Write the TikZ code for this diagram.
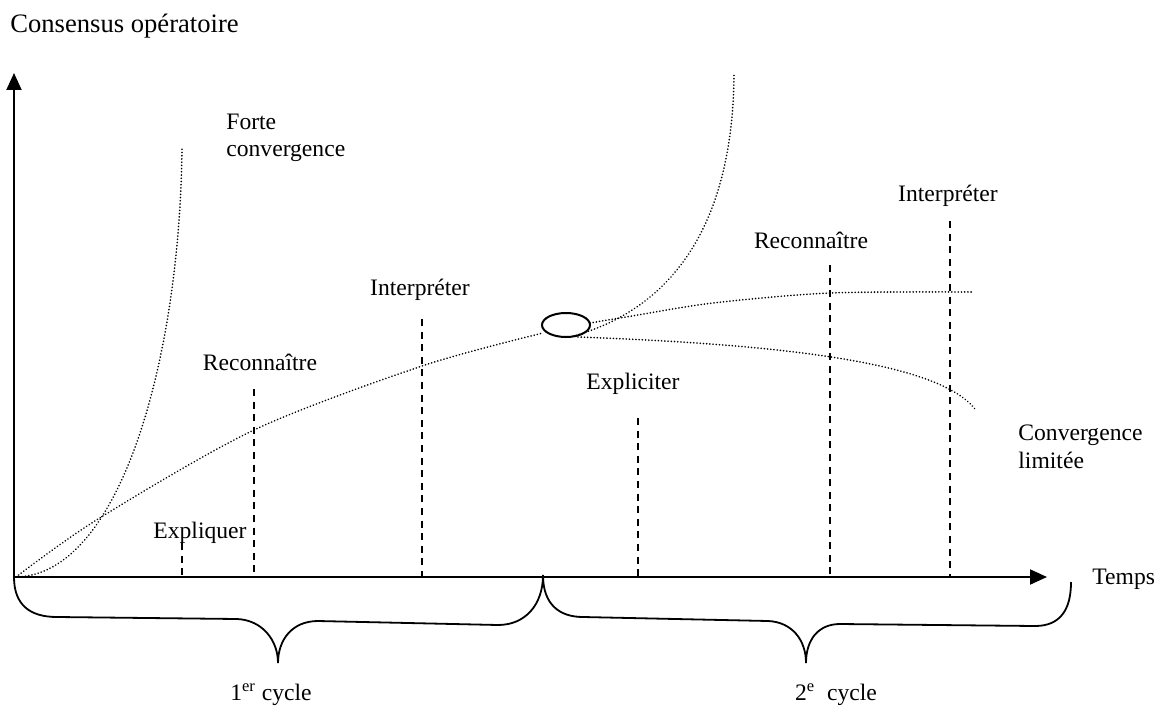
\documentclass[tikz,border=0pt]{standalone}
\usepackage{fontspec}
\setmainfont{Liberation Serif}
\usetikzlibrary{arrows.meta,shapes.geometric}

\begin{document}
\begin{tikzpicture}[x=.5pt,y=-.5pt,
  axe/.style={line width=1pt,-{Triangle[length=8.5pt,width=7.5pt]}},
  etape/.style={line width=1pt,dash pattern=on 3.5pt off 2.8pt},
  courbe/.style={line width=.9pt,dash pattern=on .01pt off 1.6pt,line cap=round},
  accolade/.style={line width=.9pt},
  txt/.style={inner sep=0pt,font=\fontsize{11.8}{13.8}\selectfont}]
\useasboundingbox (0,0) rectangle (1165,711);
% axes
\coordinate (O) at (14,577);
\draw[axe] (O)--(14,73) coordinate (ytip);
\draw[axe] (O)--(1047,577) coordinate (xtip);
\node[txt,font=\fontsize{13.3}{16}\selectfont,anchor=base west] (titre) at (10,33) {Consensus opératoire};
\node[txt,anchor=base west] (temps) at (1092,584) {Temps};
% etapes
\foreach \n/\x/\t in {expl/182/543,rec1/254/389,int1/422/319,expc/638/418,rec2/830/265,int2/950/221}
  \draw[etape] (\x,\t) coordinate (\n) -- (\n |- O);
\node[txt,anchor=base] (lexpl) at (200,538) {Expliquer};
\node[txt,anchor=base] (lrec1) at (260,370) {Reconnaître};
\node[txt,anchor=base] (lint1) at (420,295) {Interpréter};
\node[txt,anchor=base] (lexpc) at (633,389) {Expliciter};
\node[txt,anchor=base] (lrec2) at (811,249) {Reconnaître};
\node[txt,anchor=base] (lint2) at (948,201) {Interpréter};
% courbes
\node[draw,ellipse,line width=1pt,inner sep=0pt,minimum width=24pt,minimum height=12pt] (noeud) at (566,325) {};
\draw[courbe] (16,577) .. controls (120,575) and (180,360) .. (182,147);
\draw[courbe] plot[smooth] coordinates {(16,577) (98,519) (254,430) (422,366) (543,333)};
\draw[courbe] plot[smooth] coordinates {(590,323) (632,316) (713,303) (830,293) (972,292)};
\draw[courbe] (578,337) .. controls (800,345) and (940,365) .. (975,409);
\draw[courbe] (570,337) .. controls (690,305) and (733,200) .. (734,75);
\node[txt,anchor=base west,align=left] (forte) at (226,157) {Forte\\convergence};
\node[txt,anchor=base west,align=left] (limitee) at (1018,468) {Convergence\\limitée};
% cycles
\coordinate (cusp) at (543,575);
\draw[accolade] (O) .. controls (14,605) and (30,617) .. (57,617) -- (237,619)
  .. controls (262,620) and (278,640) .. (278,663) .. controls (278,640) and (292,621) .. (318,621)
  -- (498,625) .. controls (525,625) and (543,605) .. (cusp);
\draw[accolade] (cusp) .. controls (543,605) and (560,617) .. (583,617) -- (768,621)
  .. controls (792,622) and (806,640) .. (806,663) .. controls (806,640) and (818,624) .. (840,624)
  -- (1035,626) .. controls (1060,626) and (1071,610) .. (1071,582);
\node[txt,anchor=base] (cycle1) at (271,700) {1\textsuperscript{er} cycle};
\node[txt,anchor=base] (cycle2) at (836,700) {2\textsuperscript{e}\ \ cycle};
\end{tikzpicture}
\end{document}
